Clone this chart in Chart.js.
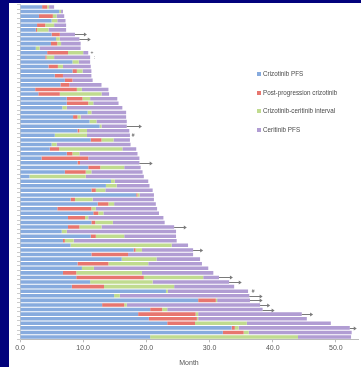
<!DOCTYPE html>
<html>
<head>
<meta charset="utf-8">
<script src="https://cdn.jsdelivr.net/npm/chart.js@4"></script>
<style>
  html, body { margin: 0; padding: 0; }
  body { width: 361px; height: 367px; background: #02027c; position: relative; overflow: hidden; }
  #panel { position: absolute; left: 9px; top: 3px; width: 352px; height: 364px; background: #fff; }
  #legend { position: absolute; left: 248px; top: 62px; font-family: "Liberation Sans", Arial, sans-serif; font-size: 6.3px; color: #4a4a4a; }
  #legend div { height: 18.5px; line-height: 18px; white-space: nowrap; }
  #legend span { display: inline-block; width: 4px; height: 4px; margin-right: 2px; vertical-align: 0; }
</style>
</head>
<body>
<div id="panel">
  <canvas id="swimmer" width="352" height="364"></canvas>
  <div id="legend"></div>
</div>
<script>
// one row per patient, top to bottom; durations in months
const crizotinibPfs = [
  3.5, 6.2, 3.0, 5.0, 2.7, 2.5, 5.0, 5.7, 4.9, 2.5,
  4.3, 4.0, 8.3, 4.5, 8.3, 5.5, 7.1, 6.4, 2.4, 2.9,
  7.4, 7.4, 6.7, 10.7, 8.4, 11.0, 12.6, 9.1, 5.5, 11.2,
  5.0, 4.7, 7.4, 3.4, 9.1, 10.8, 7.1, 1.5, 14.4, 13.6,
  11.3, 18.4, 8.0, 12.3, 5.9, 11.6, 7.6, 11.3, 7.6, 6.6,
  11.2, 6.8, 8.0, 18.0, 11.3, 16.1, 9.1, 9.8, 6.8, 8.9,
  11.1, 8.2, 23.1, 14.9, 28.2, 13.0, 20.6, 18.7, 20.4, 23.3,
  33.5, 32.1, 20.6
];
const postProgression = [
  0.8, 0, 2.2, 0, 1.3, 0.2, 1.3, 0, 1.0, 0,
  3.3, 0.2, 0, 1.5, 0.7, 1.3, 1.2, 1.4, 6.6, 3.4,
  2.5, 3.4, 0, 0, 0.7, 0, 0, 0.3, 0, 1.7,
  0, 1.5, 0.9, 7.4, 0.4, 1.9, 3.3, 0, 0, 0,
  0.7, 0.2, 0.7, 1.7, 5.4, 0.8, 2.7, 0.6, 1.8, 0,
  0.8, 0.3, 0, 0.3, 5.8, 0, 4.9, 0, 2.1, 10.7,
  0, 5.1, 0, 0, 2.8, 3.5, 1.9, 9.1, 7.6, 4.4,
  0.5, 3.3, 0
];
const interval = [
  0.3, 0.3, 0.6, 0.9, 1.4, 1.8, 0, 0.6, 0.6, 0.6,
  2.4, 1.2, 1.0, 0.8, 0.9, 0, 0, 0, 0.8, 6.6,
  1.2, 0.8, 0.7, 0.6, 0.5, 1.1, 0.3, 1.2, 5.1, 1.9,
  0.8, 10.0, 1.1, 0, 0, 3.8, 0.9, 8.9, 0.6, 1.7,
  1.5, 0.3, 2.8, 0.9, 0.7, 0.8, 0.5, 2.8, 3.5, 0.8,
  4.5, 1.4, 16.0, 1.0, 0, 5.5, 6.3, 1.9, 10.4, 9.4,
  9.9, 11.1, 0.3, 0.9, 0.2, 0.4, 0.8, 0.4, 0.2, 8.2,
  0.6, 0.8, 23.4
];
const ceritinibPfs = [
  0.8, 0.3, 1.2, 1.3, 1.9, 2.8, 2.4, 3.1, 3.1, 6.5,
  0.8, 5.7, 1.8, 4.4, 1.4, 4.5, 3.2, 5.1, 4.2, 1.2,
  4.3, 4.0, 8.8, 5.5, 7.2, 4.8, 4.0, 6.7, 6.8, 2.6,
  11.7, 2.2, 9.2, 8.1, 9.4, 2.6, 8.1, 9.2, 5.3, 5.2,
  7.5, 2.3, 9.7, 6.6, 9.7, 8.8, 11.9, 8.2, 11.5, 17.3,
  8.2, 16.3, 2.6, 8.1, 10.3, 6.9, 8.5, 18.1, 11.3, 2.5,
  12.1, 9.5, 12.7, 20.5, 5.2, 21.1, 15.1, 16.4, 17.2, 13.3,
  17.6, 16.3, 8.4
];
// ongoing patients: row number and where the arrow ends
const arrowRows = [7, 8, 27, 35, 49, 54, 60, 61, 64, 65, 66, 67, 68, 71];
const arrowTo = [10.6, 11.2, 19.3, 21.0, 26.4, 29.0, 33.7, 35.1, 38.4, 38.4, 39.6, 40.3, 46.4, 53.3];
const markRows = [11, 12, 29, 63];
const markAt = [11.4, 11.8, 17.9, 36.9];
const markText = ['+', ':', '#', '#'];

const seriesNames = ['Crizotinib PFS', 'Post-progression crizotinib', 'Crizotinib-ceritinib interval', 'Ceritinib PFS'];
const seriesColors = ['#87abde', '#e7766f', '#c0db8f', '#b19dd3'];
const rows = crizotinibPfs.map((v, i) => String(i + 1));
const monthTicks = [0, 10, 20, 30, 40, 50];

const allSeries = [crizotinibPfs, postProgression, interval, ceritinibPfs];

const arrowPlugin = {
  id: 'arrows',
  afterDatasetsDraw(chart) {
    const ctx = chart.ctx;
    const xs = chart.scales.x, ys = chart.scales.y;
    ctx.save();
    ctx.strokeStyle = '#7a7a7a';
    ctx.fillStyle = '#7a7a7a';
    ctx.lineWidth = 1;
    arrowRows.forEach((r, k) => {
      const i = r - 1;
      const end = allSeries.reduce((s, a) => s + a[i], 0);
      const y = Math.round(ys.getPixelForValue(i)) + 0.5;
      const x1 = xs.getPixelForValue(end);
      const x2 = xs.getPixelForValue(arrowTo[k]);
      ctx.beginPath();
      ctx.moveTo(x1, y);
      ctx.lineTo(x2 - 2, y);
      ctx.stroke();
      ctx.beginPath();
      ctx.moveTo(x2, y);
      ctx.lineTo(x2 - 3, y - 2);
      ctx.lineTo(x2 - 3, y + 2);
      ctx.closePath();
      ctx.fill();
    });
    ctx.font = '5px "Liberation Sans", Arial, sans-serif';
    ctx.textAlign = 'center';
    ctx.textBaseline = 'middle';
    ctx.fillStyle = '#555';
    markRows.forEach((r, k) => {
      ctx.fillText(markText[k], xs.getPixelForValue(markAt[k]), ys.getPixelForValue(r - 1));
    });
    ctx.restore();
  }
};

new Chart(document.getElementById('swimmer').getContext('2d'), {
  type: 'bar',
  data: {
    labels: rows,
    datasets: allSeries.map((d, k) => ({
      label: seriesNames[k],
      data: d,
      backgroundColor: seriesColors[k],
      borderWidth: 0,
      categoryPercentage: 1,
      barPercentage: 0.78
    }))
  },
  options: {
    indexAxis: 'y',
    responsive: false,
    animation: false,
    layout: { padding: { left: 8, right: 3, top: 1.7, bottom: 0 } },
    plugins: { legend: { display: false }, tooltip: { enabled: false } },
    scales: {
      x: {
        stacked: true,
        min: 0,
        max: 53.5,
        afterFit(scale) { scale.height = 27.7; },
        afterBuildTicks(scale) { scale.ticks = monthTicks.map(v => ({ value: v })); },
        grid: { drawOnChartArea: false, tickLength: 3, color: '#bbb' },
        border: { color: '#bbb' },
        ticks: {
          padding: 2,
          color: '#555',
          font: { family: '"Liberation Sans", Arial, sans-serif', size: 7 },
          callback: v => v.toFixed(1)
        },
        title: {
          display: true,
          text: 'Month',
          color: '#555',
          padding: { top: 0, bottom: 0 },
          font: { family: '"Liberation Sans", Arial, sans-serif', size: 7 }
        }
      },
      y: {
        stacked: true,
        grid: { drawOnChartArea: false, tickLength: 3, color: '#ccc' },
        border: { color: '#ccc' },
        ticks: { display: false }
      }
    }
  },
  plugins: [arrowPlugin]
});

const legend = document.getElementById('legend');
seriesNames.forEach((n, k) => {
  legend.innerHTML += `<div><span style="background:${seriesColors[k]}"></span>${n}</div>`;
});
</script>
</body>
</html>
